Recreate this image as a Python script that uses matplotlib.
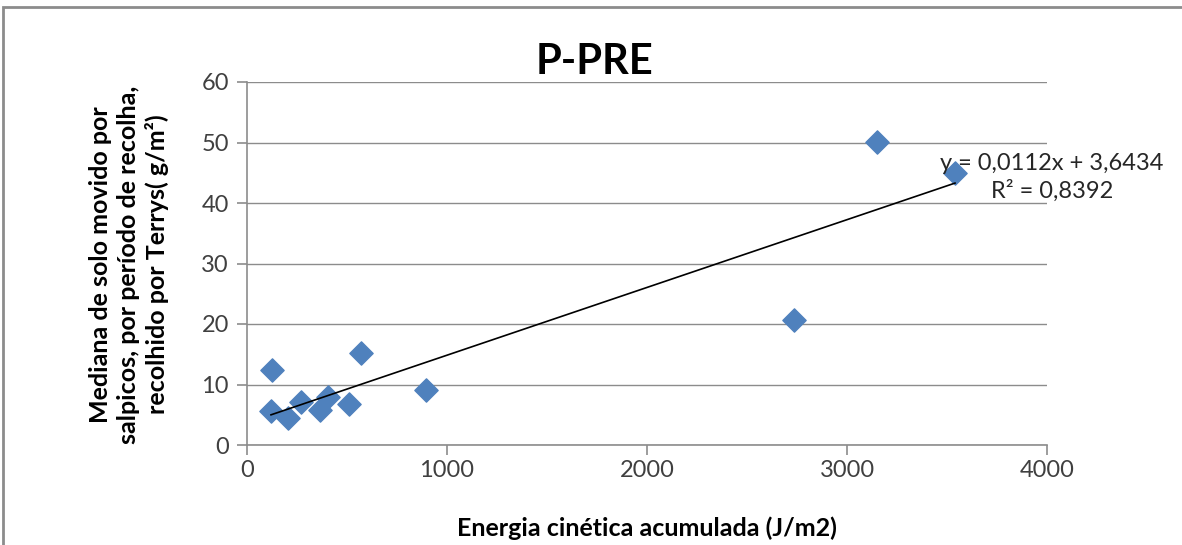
import matplotlib.pyplot as plt
from matplotlib.patches import Rectangle

# Data
energia = [125, 120, 205, 270, 365, 405, 510, 570, 895, 2735, 3150, 3540]
mediana = [12.4, 5.6, 4.5, 7.1, 5.8, 7.9, 6.8, 15.2, 9.1, 20.7, 50.1, 45.0]
slope = 0.0112
intercept = 3.6434
r2 = 0.8392

plt.rcParams['font.family'] = ['Lato', 'DejaVu Sans']

fig = plt.figure(figsize=(11.82, 5.45), dpi=100)
ax = fig.add_axes([247 / 1182, 100 / 545, 800 / 1182, 363 / 545])

# outer chart frame
fig.patches.append(Rectangle((3 / 1182, -0.05), 1.2, (545 - 7) / 545 + 0.05,
                             transform=fig.transFigure, fill=False,
                             edgecolor='#8c8c8c', linewidth=2))

ax.scatter(energia, mediana, marker='D', s=140, color='#4F81BD',
           edgecolors='#4F81BD', zorder=3)

x0, x1 = min(energia), max(energia)
ax.plot([x0, x1], [slope * x0 + intercept, slope * x1 + intercept],
        color='black', linewidth=1.2, zorder=4)

ax.set_xlim(0, 4000)
ax.set_ylim(0, 60)
ax.set_xticks(range(0, 4001, 1000))
ax.set_yticks(range(0, 61, 10))
ax.grid(axis='y', color='#8c8c8c', linewidth=1)
ax.set_axisbelow(True)
for s in ['top', 'right']:
    ax.spines[s].set_visible(False)
for s in ['left', 'bottom']:
    ax.spines[s].set_color('#8c8c8c')
    ax.spines[s].set_linewidth(1.2)
ax.tick_params(colors='#8c8c8c', length=7, width=1.2, labelsize=17,
               labelcolor='#404040')
ax.tick_params(axis='y', pad=6)

fig.text(0.503, 0.887, 'P-PRE', ha='center', va='center',
         fontsize=30, fontweight='bold')
fig.text(647 / 1182, 1 - 528 / 545, 'Energia cinética acumulada (J/m2)',
         ha='center', va='center', fontsize=18, fontweight='bold')
fig.text(129 / 1182, 0.515,
         'Mediana de solo movido por\nsalpicos, por período de recolha,\nrecolhido por Terrys( g/m²)',
         rotation=90, ha='center', va='center', fontsize=18,
         fontweight='bold', linespacing=1.25)

r2_txt = f'{r2}'.replace('.', ',')
ax.text(4025, 44.2, 'y = 0,0112x + 3,6434\nR² = ' + r2_txt,
        ha='center', va='center', fontsize=17, color='#262626',
        linespacing=1.3, clip_on=False)

fig.savefig('out.png', dpi=100)
